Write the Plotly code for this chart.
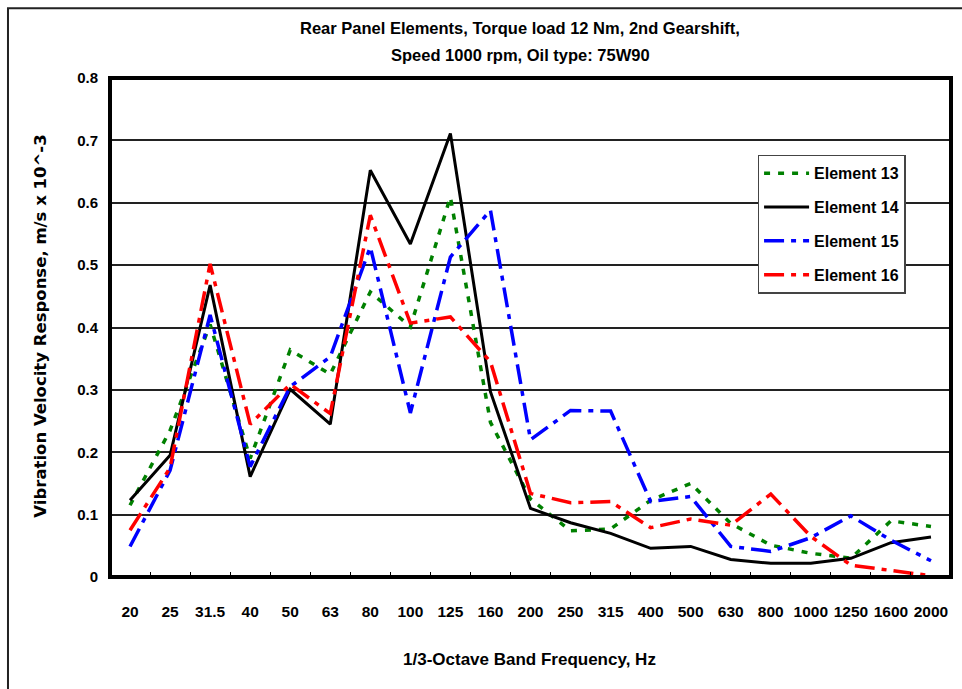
import plotly.graph_objects as go

categories = ["20", "25", "31.5", "40", "50", "63", "80", "100", "125", "160", "200",
              "250", "315", "400", "500", "630", "800", "1000", "1250", "1600", "2000"]

element13 = [0.115, 0.235, 0.405, 0.19, 0.364, 0.325, 0.457, 0.401, 0.609, 0.248, 0.125,
             0.074, 0.077, 0.123, 0.150, 0.086, 0.051, 0.038, 0.030, 0.090, 0.081]
element14 = [0.123, 0.195, 0.468, 0.161, 0.301, 0.245, 0.652, 0.534, 0.711, 0.297, 0.110,
             0.087, 0.070, 0.046, 0.049, 0.028, 0.022, 0.022, 0.030, 0.055, 0.064]
element15 = [0.049, 0.171, 0.420, 0.177, 0.305, 0.353, 0.529, 0.263, 0.513, 0.588, 0.220,
             0.267, 0.266, 0.121, 0.129, 0.049, 0.041, 0.063, 0.098, 0.059, 0.026]
element16 = [0.075, 0.175, 0.502, 0.245, 0.309, 0.262, 0.580, 0.407, 0.417, 0.345, 0.134,
             0.119, 0.121, 0.079, 0.093, 0.083, 0.133, 0.065, 0.019, 0.010, 0.002]

y_ticks = [0, 0.1, 0.2, 0.3, 0.4, 0.5, 0.6, 0.7, 0.8]
y_tick_labels = ["0", "0.1", "0.2", "0.3", "0.4", "0.5", "0.6", "0.7", "0.8"]

FONT = "Liberation Sans, Arial, sans-serif"
FONT_WIDE = "DejaVu Sans, Liberation Sans, sans-serif"

fig = go.Figure()
series = [
    ("Element 13", element13, "#008000", "6px,8px", 3.5),
    ("Element 14", element14, "#000000", "solid", 3),
    ("Element 15", element15, "#0000ff", "20px,7px,5px,7px", 3.5),
    ("Element 16", element16, "#ff0000", "20px,7px,5px,7px", 3.5),
]
for i, (name, vals, col, dash, w) in enumerate(series):
    fig.add_trace(go.Scatter(
        x=categories, y=vals, name=name, mode="lines",
        line=dict(color=col, dash=dash, width=w),
        legendgroup=f"g{i}",
    ))

fig.update_layout(
    width=962, height=689,
    margin=dict(l=110, r=11, t=78, b=112),
    paper_bgcolor="white", plot_bgcolor="white",
    showlegend=True,
    legend=dict(
        x=0.770, y=0.846, xanchor="left", yanchor="top",
        bgcolor="white", bordercolor="#444", borderwidth=1.5,
        font=dict(family=FONT, size=16, color="black", weight="bold"),
        tracegroupgap=10, itemwidth=45,
    ),
    xaxis=dict(
        type="category", categoryorder="array", categoryarray=categories,
        showgrid=False, zeroline=False,
        ticks="inside", ticklen=5, tickwidth=1, tickcolor="black",
        tickson="boundaries", ticklabelstandoff=23, tickangle=0,
        tickfont=dict(family=FONT, size=15.5, color="black", weight="bold"),
        range=[-0.5, len(categories) - 0.5],
        showline=False,
    ),
    yaxis=dict(
        range=[0, 0.8], tickvals=y_ticks, ticktext=y_tick_labels,
        showgrid=True, gridcolor="#222", gridwidth=1.5,
        zeroline=False, ticks="", ticklabelstandoff=11,
        tickfont=dict(family=FONT, size=15, color="black", weight="bold"),
        showline=False,
    ),
    shapes=[
        dict(type="rect", xref="paper", yref="paper", x0=0, x1=1, y0=0, y1=1,
             line=dict(color="black", width=4), layer="above"),
        dict(type="rect", xref="paper", yref="paper", x0=-0.1213, x1=1.1, y0=-0.4, y1=1.140,
             line=dict(color="#222", width=2), layer="below"),
    ],
    annotations=[
        dict(text="Rear Panel Elements, Torque load 12 Nm, 2nd Gearshift,", xref="paper", yref="paper",
             x=0.488, y=1.100, showarrow=False, xanchor="center", yanchor="middle",
             font=dict(family=FONT, size=16.5, color="black", weight="bold")),
        dict(text="Speed 1000 rpm, Oil type: 75W90", xref="paper", yref="paper",
             x=0.488, y=1.046, showarrow=False, xanchor="center", yanchor="middle",
             font=dict(family=FONT, size=16.5, color="black", weight="bold")),
        dict(text="1/3-Octave Band Frequency, Hz", xref="paper", yref="paper",
             x=0.499, y=-0.166, showarrow=False, xanchor="center", yanchor="middle",
             font=dict(family=FONT, size=17, color="black", weight="bold")),
        dict(text="Vibration Velocity Response, m/s x 10^-3", xref="paper", yref="paper",
             x=-0.083, y=0.502, showarrow=False, xanchor="center", yanchor="middle",
             textangle=-90,
             font=dict(family=FONT_WIDE, size=16.5, color="black", weight="bold")),
    ],
)

fig.write_html("out.html")
